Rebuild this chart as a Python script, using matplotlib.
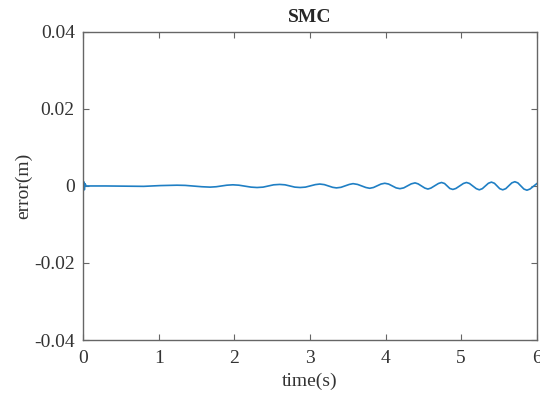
import matplotlib
matplotlib.use("Agg")
import matplotlib.pyplot as plt

# tracking error of the SMC controller
# (peaks, troughs and the flanks in between)
tempo = [0.0, 0.008, 0.016, 0.024, 0.04, 0.3, 0.8, 1.02, 1.24, 1.35, 1.57, 1.68, 1.76,
         1.90, 1.98, 2.06, 2.22, 2.30, 2.38, 2.52, 2.60, 2.67, 2.80, 2.87, 2.94,
         3.07, 3.13, 3.19, 3.30, 3.35, 3.41, 3.52, 3.57, 3.63, 3.74, 3.79, 3.84,
         3.94, 3.99, 4.04, 4.14, 4.19, 4.24, 4.34, 4.39, 4.43, 4.52, 4.56, 4.60,
         4.70, 4.74, 4.78, 4.85, 4.89, 4.93, 5.03, 5.07, 5.11, 5.20, 5.24, 5.28,
         5.36, 5.40, 5.44, 5.51, 5.55, 5.59, 5.67, 5.71, 5.75, 5.83, 5.87, 5.91,
         6.0]
erro = [0.0, 0.0011, -0.0010, 0.0006, 0.0, 0.0, -0.0001, 0.0001, 0.0002, 0.00015,
        -0.0002, -0.0003, -0.0002, 0.0002, 0.0003, 0.0002, -0.0003, -0.0004,
        -0.0003, 0.0003, 0.0004, 0.0003, -0.0003, -0.0004, -0.0003, 0.00035,
        0.0005, 0.00035, -0.00035, -0.0005, -0.00035, 0.0004, 0.0006, 0.0004,
        -0.0004, -0.0006, -0.0004, 0.0005, 0.0007, 0.0005, -0.0005, -0.0007,
        -0.0005, 0.00055, 0.0008, 0.00055, -0.00055, -0.0008, -0.00055, 0.00065,
        0.0009, 0.00065, -0.00065, -0.0009, -0.00065, 0.00065, 0.0009, 0.00065,
        -0.0007, -0.0010, -0.0007, 0.0007, 0.0010, 0.0007, -0.0007, -0.0010,
        -0.0007, 0.0008, 0.0011, 0.0008, -0.0008, -0.0011, -0.0008, 0.0006]

y_ticks = [-0.04, -0.02, 0, 0.02, 0.04]
y_labels = ["-0.04", "-0.02", "0", "0.02", "0.04"]
x_ticks = [0, 1, 2, 3, 4, 5, 6]

plt.rcParams['font.family'] = ['Liberation Serif', 'DejaVu Serif']

fig = plt.figure(figsize=(5.4, 3.94), dpi=100)
ax = fig.add_axes([0.154, 0.137, 0.840, 0.782])

ax.plot(tempo, erro, color='#1f7fc4', linewidth=1.2, solid_joinstyle='round')

ax.set_xlim(0, 6)
ax.set_ylim(-0.04, 0.04)
ax.set_xticks(x_ticks)
ax.set_yticks(y_ticks)
ax.set_yticklabels(y_labels)

cor_eixo = '0.4'
for lado in ax.spines.values():
    lado.set_color(cor_eixo)
    lado.set_linewidth(1.0)
ax.tick_params(direction='in', top=True, right=True, length=4, width=0.8,
               colors=cor_eixo, labelsize=14, labelcolor='0.2')
ax.tick_params(axis='x', pad=7)
ax.tick_params(axis='y', pad=6)

ax.set_title('SMC', fontsize=14, fontweight='bold', color='0.15', pad=7)
ax.set_xlabel('time(s)', fontsize=14, color='0.2', labelpad=4)
ax.set_ylabel('error(m)', fontsize=14, color='0.2', labelpad=1)

fig.savefig('out.png', dpi=100)
plt.close(fig)
